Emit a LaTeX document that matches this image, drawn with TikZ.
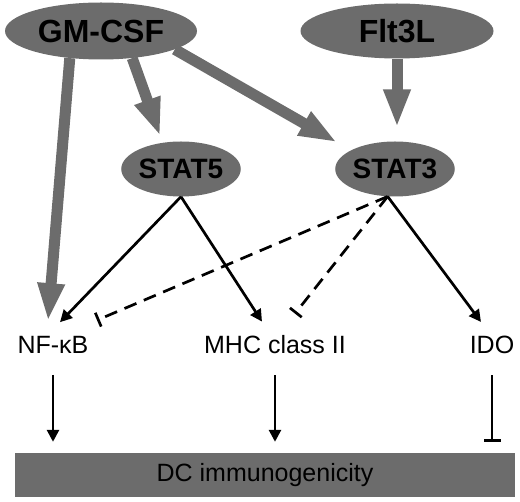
\documentclass[tikz,border=0pt]{standalone}
\usepackage{fontspec}
\setmainfont{Liberation Sans}
\usepackage{tikz}
\usepackage{xcolor}
\usetikzlibrary{shapes.geometric, arrows.meta, positioning, calc}
\definecolor{cytogray}{RGB}{108, 108, 108}

\begin{document}
\begin{tikzpicture}[x=1pt, y=-1pt,
    cytokine/.style={ellipse, fill=cytogray, inner sep=0pt},
    target/.style={inner xsep=1pt, inner ysep=14pt, font=\fontsize{25}{28}\selectfont},
    signal/.style={draw=cytogray, line width=11pt, -{Triangle[length=38pt, width=25pt]}},
    activate/.style={draw=black, line width=2.7pt, -{Triangle[length=12pt, width=12pt]}},
    inhibit/.style={draw=black, line width=2.7pt, dash pattern=on 13pt off 8pt, -{Bar[width=15pt, line width=2.7pt]}},
    block/.style={draw=black, line width=2.7pt, -{Bar[width=17pt, line width=3pt]}}]

\useasboundingbox (0,0) rectangle (520,502);

% Cytokines and transcription factors
\node[cytokine, minimum width=192pt, minimum height=57pt,
      font=\fontsize{32}{36}\selectfont\bfseries] (gmcsf) at (101,31) {GM-CSF};
\node[cytokine, minimum width=193pt, minimum height=55pt,
      font=\fontsize{32}{36}\selectfont\bfseries] (flt3l) at (397,31) {Flt3L};
\node[cytokine, minimum width=115pt, minimum height=55pt,
      font=\fontsize{28}{32}\selectfont\bfseries] (stat5) at (181,169) {STAT5};
\node[cytokine, minimum width=113pt, minimum height=55pt,
      font=\fontsize{28}{32}\selectfont\bfseries] (stat3) at (395,169) {STAT3};

% Targets
\node[target] (nfkb) at (53,345) {NF-κB};
\node[target] (mhc) at (275,345) {MHC class II};
\node[target] (ido) at (492,345) {IDO};

% Outcome bar
\node[rectangle, fill=cytogray, minimum width=500pt, minimum height=44pt,
      inner sep=0pt, font=\fontsize{25}{28}\selectfont] (dc) at (265,475)
      {DC immunogenicity};

% Cytokine signalling
\draw[signal] (gmcsf.221) -- ($(nfkb.north)+(-5,-1)$);
\draw[signal, shorten >=7pt] (gmcsf.-41) -- (stat5.125);
\draw[signal, shorten >=16pt] (gmcsf.-14) -- (stat3.157);
\draw[signal, shorten >=14pt] (flt3l.south) -- (flt3l.south |- stat3.north);

% STAT5 and STAT3 targets
\draw[activate] (stat5.south) -- ($(nfkb.north)+(7,0)$);
\draw[activate] (stat5.south) -- ($(mhc.north)+(-13,0)$);
\draw[inhibit] (stat3.-105) -- ($(nfkb.north)+(44,-2)$);
\draw[inhibit] (stat3.-105) -- ($(mhc.north)+(20,-8)$);
\draw[activate] (stat3.-105) -- ($(ido.north)+(-11,0)$);

% Effect on immunogenicity
\draw[activate, shorten <=7pt, shorten >=11pt] (nfkb.south) -- (nfkb.south |- dc.north);
\draw[activate, shorten <=7pt, shorten >=11pt] (mhc.south) -- (mhc.south |- dc.north);
\draw[block, shorten <=7pt, shorten >=11pt] (ido.south) -- (ido.south |- dc.north);

\end{tikzpicture}
\end{document}
